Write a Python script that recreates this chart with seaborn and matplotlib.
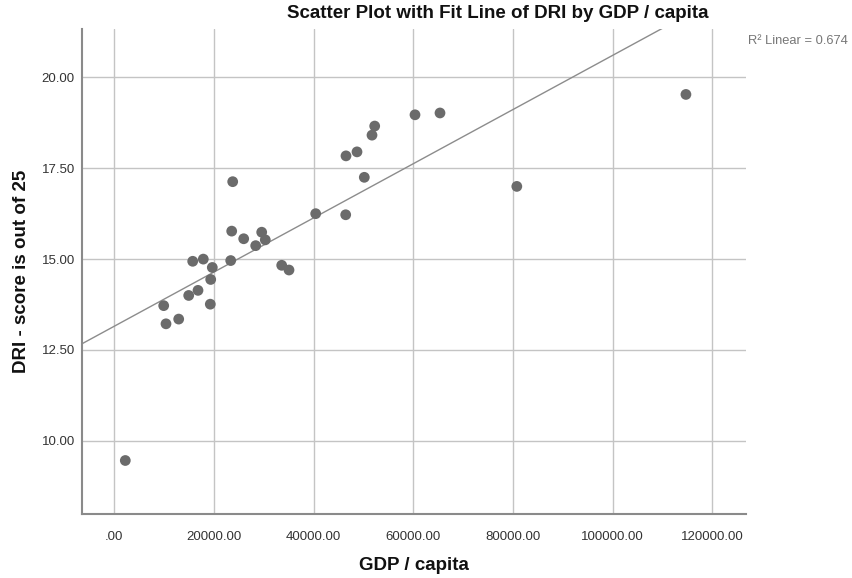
import matplotlib
matplotlib.use("Agg")
import matplotlib.pyplot as plt
import matplotlib.ticker as mticker
import seaborn as sns
import pandas as pd

gdp_per_capita = [2207, 9910, 10371, 12919, 14925, 15727, 16790, 17853, 19338,
                  19258, 19659, 23350, 23550, 23751, 25958, 28364, 29568, 30290,
                  33580, 35045, 40400, 46419, 46479, 48686, 50150, 51695, 52236,
                  60320, 65335, 80745, 114670]
dri_score = [9.46, 13.72, 13.22, 13.35, 14.00, 14.94, 14.14, 15.00, 14.44,
             13.76, 14.77, 14.96, 15.77, 17.13, 15.56, 15.37, 15.74, 15.53,
             14.83, 14.70, 16.25, 16.22, 17.84, 17.95, 17.25, 18.41, 18.66,
             18.97, 19.02, 17.00, 19.53]
x_ticks = [0, 20000, 40000, 60000, 80000, 100000, 120000]
y_ticks = [10.0, 12.5, 15.0, 17.5, 20.0]
title_text = "Scatter Plot with Fit Line of DRI by GDP / capita"
x_label = "GDP / capita"
y_label = "DRI - score is out of 25"
r2_text = "R\u00b2 Linear = 0.674"

df = pd.DataFrame({"gdp": gdp_per_capita, "dri": dri_score})

sns.set_theme(style="white")
plt.rcParams['font.family'] = ['Liberation Sans', 'DejaVu Sans']

fig = plt.figure(figsize=(8.53, 5.78), dpi=100)
ax = fig.add_axes([81.7 / 853, 1 - 514.3 / 578, (745.7 - 81.7) / 853, (514.3 - 29) / 578])

ax.set_xlim(-6540, 126660)
ax.set_ylim(7.98, 21.33)
ax.set_xticks(x_ticks)
ax.set_yticks(y_ticks)
ax.grid(True, color="#c4c4c4", linewidth=1.0)
ax.set_axisbelow(True)

sns.regplot(data=df, x="gdp", y="dri", scatter=False, truncate=False, ci=None,
            ax=ax, line_kws={"color": "#8c8c8c", "linewidth": 1.0})
sns.scatterplot(data=df, x="gdp", y="dri", ax=ax, s=60, color="#6b6b6b",
                edgecolor="none", zorder=3)

ax.set_xlim(-6540, 126660)
ax.set_ylim(7.98, 21.33)

def xfmt(v, pos):
    return ".00" if v == 0 else f"{v:.2f}"

ax.xaxis.set_major_formatter(mticker.FuncFormatter(xfmt))
ax.yaxis.set_major_formatter(mticker.FuncFormatter(lambda v, p: f"{v:.2f}"))
ax.tick_params(axis="both", length=0, labelsize=9.5, labelcolor="#333333")
ax.tick_params(axis="x", pad=12)
ax.tick_params(axis="y", pad=5)

for side in ["top", "right"]:
    ax.spines[side].set_visible(False)
for side in ["left", "bottom"]:
    ax.spines[side].set_color("#8a8a8a")
    ax.spines[side].set_linewidth(1.5)

ax.set_xlabel("")
ax.set_ylabel("")
fig.text(414 / 853, 1 - 565 / 578, x_label, ha="center", va="center",
         fontsize=13.5, fontweight="bold", color="#111111")
fig.text(22 / 853, 1 - 271 / 578, y_label, ha="center", va="center",
         rotation=90, fontsize=13.5, fontweight="bold", color="#111111")
fig.text(498 / 853, 1 - 14 / 578, title_text, ha="center", va="center",
         fontsize=13.5, fontweight="bold", color="#111111")
fig.text(748 / 853, 1 - 41 / 578, r2_text, ha="left", va="center",
         fontsize=9.3, color="#777777")

fig.savefig("out.png", dpi=100)
